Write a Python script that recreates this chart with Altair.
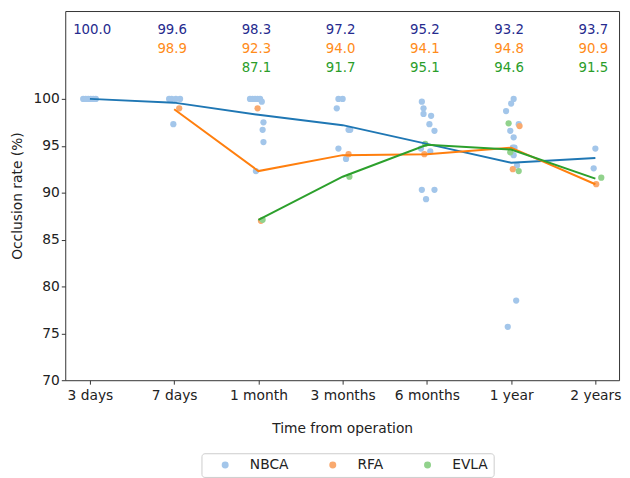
import json
import altair as alt
import pandas as pd

CATEGORIES = ["3 days", "7 days", "1 month", "3 months", "6 months", "1 year", "2 years"]
SERIES = ["NBCA", "RFA", "EVLA"]

NBCA_MEAN = [100.0, 99.6, 98.3, 97.2, 95.2, 93.2, 93.7]
RFA_MEAN = [None, 98.9, 92.3, 94.0, 94.1, 94.8, 90.9]
EVLA_MEAN = [None, None, 87.1, 91.7, 95.1, 94.6, 91.5]

# individual study values: (category index, occlusion rate, strip jitter)
NBCA_PTS = [
    (0, 100.0, -0.08), (0, 100.0, -0.05), (0, 100.0, -0.02), (0, 100.0, 0.01), (0, 100.0, 0.04), (0, 100.0, 0.07),
    (1, 100.0, -0.06), (1, 100.0, -0.03), (1, 100.0, 0.02), (1, 100.0, 0.07), (1, 97.3, -0.01),
    (2, 100.0, -0.10), (2, 100.0, -0.07), (2, 100.0, -0.04), (2, 100.0, -0.01), (2, 100.0, 0.02),
    (2, 99.7, 0.04), (2, 97.5, 0.06), (2, 96.7, 0.05), (2, 95.4, 0.06), (2, 92.3, -0.03),
    (3, 100.0, -0.05), (3, 100.0, 0.0), (3, 99.0, -0.07), (3, 96.7, 0.07), (3, 96.7, 0.09),
    (3, 94.7, -0.05), (3, 93.6, 0.04),
    (4, 99.7, -0.06), (4, 99.0, -0.04), (4, 98.4, -0.04), (4, 98.2, 0.05), (4, 97.3, 0.03),
    (4, 96.6, 0.09), (4, 94.7, -0.07), (4, 94.4, 0.04), (4, 90.3, -0.06), (4, 90.3, 0.09), (4, 89.3, -0.01),
    (5, 100.0, 0.03), (5, 99.5, 0.0), (5, 98.7, -0.06), (5, 97.3, 0.09), (5, 96.6, -0.01),
    (5, 95.9, 0.03), (5, 94.8, 0.02), (5, 94.8, 0.04), (5, 94.0, 0.03), (5, 92.9, 0.07),
    (5, 78.5, 0.06), (5, 75.7, -0.04),
    (6, 94.7, 0.0), (6, 92.6, -0.02),
]
RFA_PTS = [
    (1, 99.0, 0.06), (2, 99.0, -0.01), (2, 87.0, 0.03), (3, 94.1, 0.07), (4, 94.1, -0.03),
    (5, 97.1, 0.10), (5, 92.5, 0.02), (6, 90.9, 0.01),
]
EVLA_PTS = [
    (2, 87.1, 0.05), (3, 91.7, 0.08), (4, 95.2, -0.02), (5, 97.4, -0.03), (5, 94.3, -0.01),
    (5, 92.3, 0.09), (6, 91.6, 0.07),
]

POINT_COLORS = ["#a3c6ea", "#f9a96e", "#91d28c"]
LINE_COLORS = ["#1f77b4", "#ff7f0e", "#2ca02c"]
TEXT_COLORS = ["#262b8e", "#ff8c1a", "#2a9d2a"]

pts_rows = []
for name, pts in zip(SERIES, [NBCA_PTS, RFA_PTS, EVLA_PTS]):
    for idx, val, jit in pts:
        pts_rows.append({"series": name, "idx": idx, "value": val, "jit": jit})
pts_df = pd.DataFrame(pts_rows)

mean_rows = []
for r, (name, means) in enumerate(zip(SERIES, [NBCA_MEAN, RFA_MEAN, EVLA_MEAN])):
    for idx, m in enumerate(means):
        if m is not None:
            mean_rows.append({"series": name, "idx": idx, "value": m, "row": r, "label": f"{m:.1f}"})
mean_df = pd.DataFrame(mean_rows)

x_scale = alt.Scale(domain=[-0.293, 6.281], nice=False, zero=False)
y_scale = alt.Scale(domain=[70, 109.37], nice=False, zero=False)

label_expr = json.dumps(CATEGORIES) + "[datum.value]"
x_axis = alt.Axis(values=list(range(len(CATEGORIES))), labelExpr=label_expr, title="Time from operation",
                  grid=False, tickSize=4, labelPadding=5, titlePadding=19, domain=False, labelOverlap=False)
y_axis = alt.Axis(values=[70, 75, 80, 85, 90, 95, 100], title="Occlusion rate (%)", grid=False,
                  tickSize=4, labelPadding=2, titlePadding=9, domain=False)

points = alt.Chart(pts_df).transform_calculate(xpos="datum.idx + datum.jit").mark_circle(
    size=40, opacity=1
).encode(
    x=alt.X("xpos:Q", scale=x_scale, axis=x_axis),
    y=alt.Y("value:Q", scale=y_scale, axis=y_axis),
    color=alt.Color("series:N", scale=alt.Scale(domain=SERIES, range=POINT_COLORS),
                    legend=alt.Legend(title=None, orient="none", legendX=138, legendY=448,
                                      direction="horizontal")),
)

lines = alt.Chart(mean_df).mark_line(strokeWidth=2).encode(
    x=alt.X("idx:Q", scale=x_scale, axis=x_axis),
    y=alt.Y("value:Q", scale=y_scale, axis=y_axis),
    color=alt.Color("series:N", scale=alt.Scale(domain=SERIES, range=LINE_COLORS), legend=None),
)

texts = alt.Chart(mean_df).mark_text(align="left", baseline="middle", dx=-17, fontSize=13.5).encode(
    x=alt.X("idx:Q", scale=x_scale, axis=x_axis),
    y=alt.Y("row:Q", scale=alt.Scale(domain=[-0.974, 18.2], reverse=True, nice=False, zero=False), axis=None),
    text="label:N",
    color=alt.Color("series:N", scale=alt.Scale(domain=SERIES, range=TEXT_COLORS), legend=None),
)

inner = alt.layer(points, lines).resolve_scale(color="independent")
chart = alt.layer(inner, texts).resolve_scale(y="independent", color="independent").properties(
    width=561, height=374,
    autosize=alt.AutoSizeParams(type="none"),
    padding={"left": 58, "top": 0, "right": 3, "bottom": 96},
).configure(font="DejaVu Sans").configure_view(
    stroke="#333333", strokeWidth=1
).configure_axis(
    labelFont="DejaVu Sans", titleFont="DejaVu Sans", labelFontSize=14, titleFontSize=14,
    titleFontWeight="normal", labelColor="#222222", titleColor="#222222", tickColor="#333333",
).configure_legend(
    strokeColor="#cccccc", cornerRadius=3, fillColor="white", padding=5, symbolOffset=12,
    labelOffset=18, columnPadding=25, labelFontSize=14, labelFont="DejaVu Sans", labelColor="#222222",
    symbolSize=50, symbolType="circle", symbolStrokeWidth=0,
)

chart.save("out.html", embed_options={"renderer": "svg", "actions": False})
